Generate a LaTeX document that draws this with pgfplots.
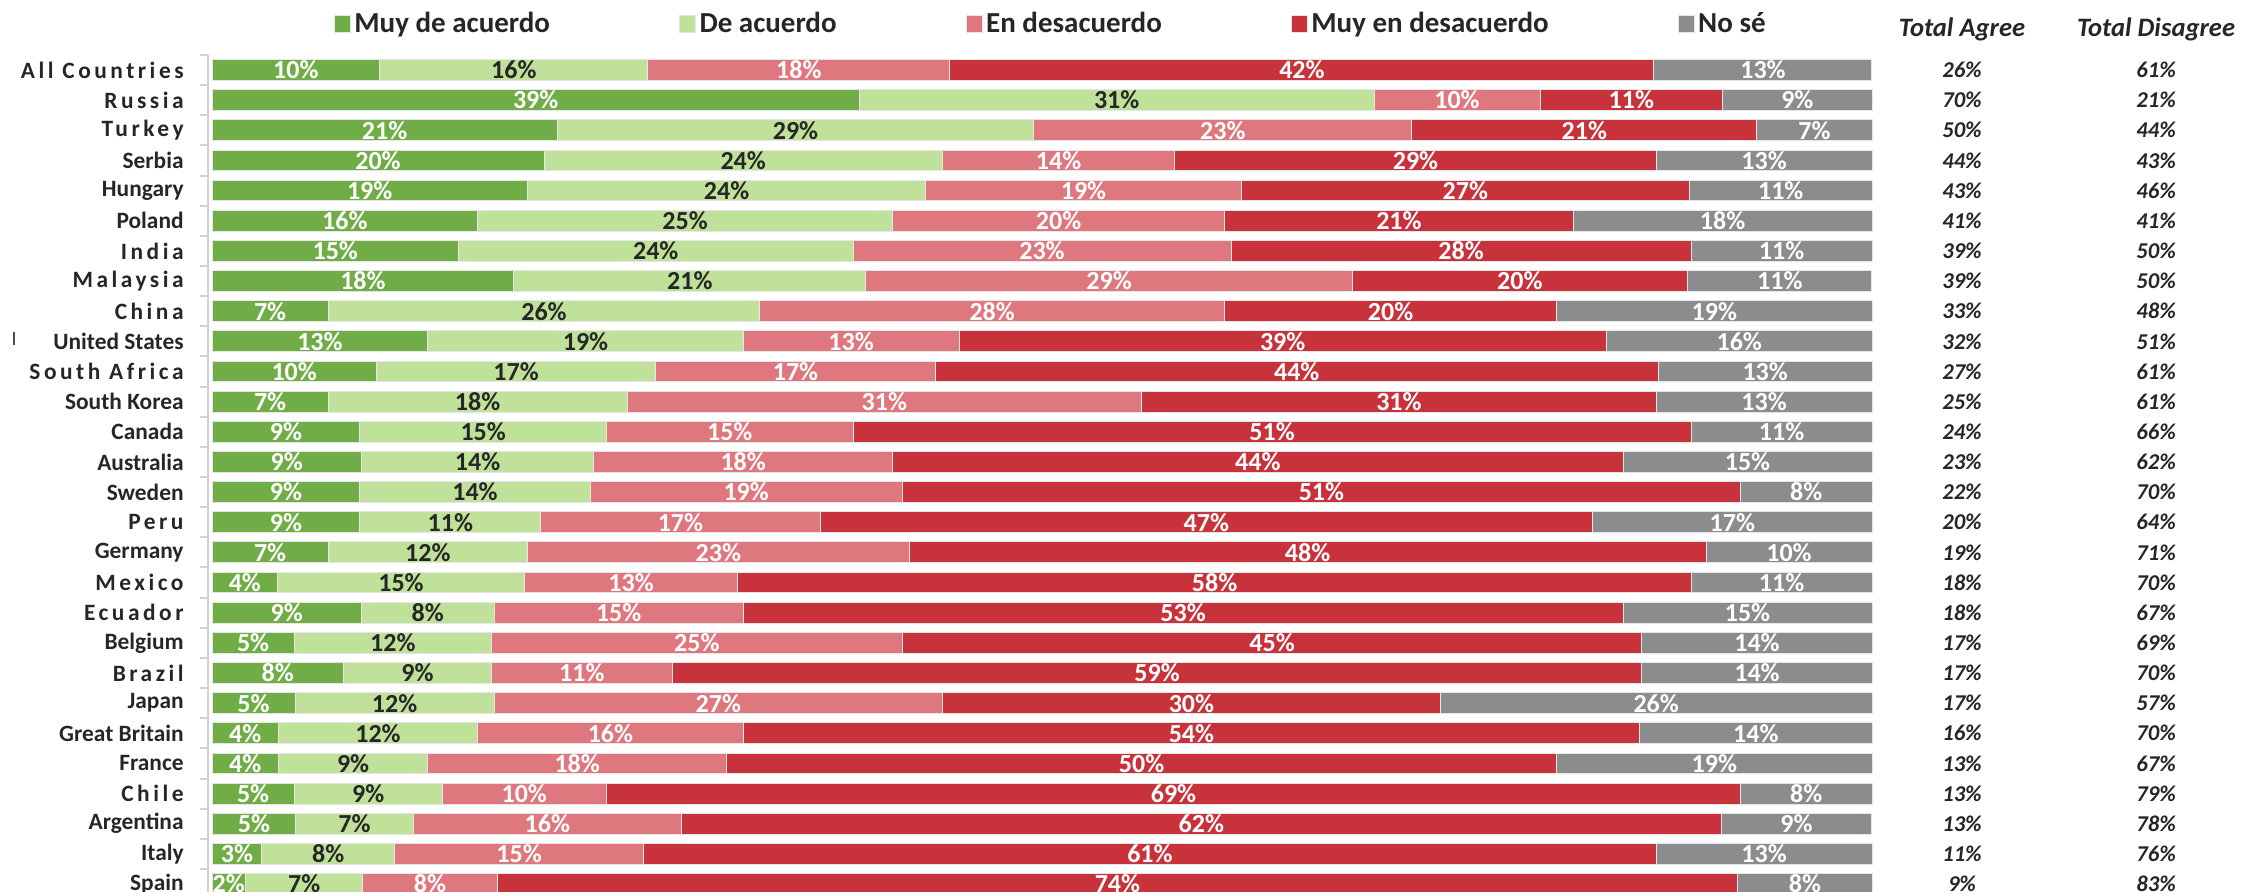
\documentclass[border=0pt]{standalone}
\usepackage{fontspec}
\setmainfont{Carlito}
\usepackage{pgfplots}
\usepackage{pgfplotstable}
\pgfplotsset{compat=1.18}
\definecolor{cA}{HTML}{70AD47}
\definecolor{cB}{HTML}{C0E199}
\definecolor{cC}{HTML}{DE777E}
\definecolor{cD}{HTML}{C8323A}
\definecolor{cE}{HTML}{8A8C8E}
\definecolor{txt}{HTML}{262626}
\definecolor{bl}{HTML}{E6E6E6}
\newcommand\ls{\addfontfeatures{LetterSpace=15}}
% total of the five printed shares, used to draw each bar as 100%
\newcommand\Tot{(\thisrow{a}+\thisrow{b}+\thisrow{c}+\thisrow{d}+\thisrow{e})}
\newcommand\Nm[1]{(100*(#1)/\Tot)}

\pgfplotstableread{
idx a b c d e ta td
0 10 16 18 42 13 26 61
1 39 31 10 11 9 70 21
2 21 29 23 21 7 50 44
3 20 24 14 29 13 44 43
4 19 24 19 27 11 43 46
5 16 25 20 21 18 41 41
6 15 24 23 28 11 39 50
7 18 21 29 20 11 39 50
8 7 26 28 20 19 33 48
9 13 19 13 39 16 32 51
10 10 17 17 44 13 27 61
11 7 18 31 31 13 25 61
12 9 15 15 51 11 24 66
13 9 14 18 44 15 23 62
14 9 14 19 51 8 22 70
15 9 11 17 47 17 20 64
16 7 12 23 48 10 19 71
17 4 15 13 58 11 18 70
18 9 8 15 53 15 18 67
19 5 12 25 45 14 17 69
20 8 9 11 59 14 17 70
21 5 12 27 30 26 17 57
22 4 12 16 54 14 16 70
23 4 9 18 50 19 13 67
24 5 9 10 69 8 13 79
25 5 7 16 62 9 13 78
26 3 8 15 61 13 11 76
27 2 7 8 74 8 9 83
}\data

\pgfplotsset{
  base/.style={at={(0,0)}, anchor=south west, scale only axis,
    width=1129.5pt, height=446pt,
    xmin=-12.7711, xmax=123.3133, ymin=-2.3217, ymax=27.2637,
    y dir=reverse, axis line style={draw=none}, xtick=\empty,
    enlargelimits=false},
  sq/.style={legend image code/.code={\fill[##1] (0pt,-4.25pt) rectangle (8pt,4.25pt);}},
  lab/.style={draw=none, point meta=explicit symbolic,
    nodes near coords={\pgfplotspointmeta\%},
    every node near coord/.append style={anchor=center, inner sep=0pt,
      font=\bfseries\fontsize{13}{15}\selectfont, text=#1}},
  tot/.style={draw=none, point meta=explicit symbolic,
    nodes near coords={\pgfplotspointmeta\%},
    every node near coord/.append style={anchor=center, inner sep=0pt,
      font=\bfseries\itshape\fontsize{11.3}{13}\selectfont, text=txt}},
}

\begin{document}
\begin{tikzpicture}
\useasboundingbox (0,0) rectangle (1129.5pt,446pt);
\begin{axis}[base, xbar stacked, bar width=0.69, ytick=\empty,
  legend columns=5,
  legend style={at={(0.1478,0.973)}, anchor=west, draw=none, fill=none,
    inner sep=0pt, outer sep=0pt,
    nodes={inner xsep=1.75pt, inner ysep=0pt, text=txt},
    font=\bfseries\fontsize{14.5}{17}\selectfont,
    /tikz/every even column/.append style={column sep=62.75pt}},
  legend cell align=left]
\addplot[fill=cA, draw=bl, line width=0.5pt, sq] table[x expr=\Nm{\thisrow{a}}, y=idx]{\data};
\addlegendentry{Muy de acuerdo}
\addplot[fill=cB, draw=bl, line width=0.5pt, sq] table[x expr=\Nm{\thisrow{b}}, y=idx]{\data};
\addlegendentry{De acuerdo}
\addplot[fill=cC, draw=bl, line width=0.5pt, sq] table[x expr=\Nm{\thisrow{c}}, y=idx]{\data};
\addlegendentry{En desacuerdo}
\addplot[fill=cD, draw=bl, line width=0.5pt, sq] table[x expr=\Nm{\thisrow{d}}, y=idx]{\data};
\addlegendentry{Muy en desacuerdo}
\addplot[fill=cE, draw=bl, line width=0.5pt, sq] table[x expr=\Nm{\thisrow{e}}, y=idx]{\data};
\addlegendentry{No sé}
\end{axis}
\begin{axis}[base, clip=false, ytick={0,...,27}, major tick length=0pt,
  ytick style={draw=none},
  yticklabel style={anchor=east, inner xsep=0pt, xshift=92pt, text=txt,
    font=\bfseries\fontsize{11.7}{13}\selectfont},
  yticklabels={{\ls All Countries},{\ls Russia},{\ls Turkey},Serbia,Hungary,Poland,{\ls India},{\ls Malaysia},{\ls China},United States,{\ls South Africa},South Korea,Canada,Australia,Sweden,{\ls Peru},Germany,{\ls Mexico},{\ls Ecuador},Belgium,{\ls Brazil},Japan,Great Britain,France,{\ls Chile},Argentina,Italy,Spain}]
\draw[white!82!black, line width=1pt] (axis cs:-0.24,-0.5) -- (axis cs:-0.24,27.3);
\pgfplotsinvokeforeach{-0.5,0.5,...,26.5}{
  \draw[white!82!black, line width=1pt] (axis cs:-0.72,#1) -- (axis cs:-0.24,#1);}
\draw[black!70, line width=0.8pt] (axis cs:-11.93,8.69) -- (axis cs:-11.93,9.12);
\addplot[lab=white] table[x expr=\Nm{\thisrow{a}/2}, y=idx, meta=a]{\data};
\addplot[lab=txt] table[x expr=\Nm{\thisrow{a}+\thisrow{b}/2}, y=idx, meta=b]{\data};
\addplot[lab=white] table[x expr=\Nm{\thisrow{a}+\thisrow{b}+\thisrow{c}/2}, y=idx, meta=c]{\data};
\addplot[lab=white] table[x expr=\Nm{\thisrow{a}+\thisrow{b}+\thisrow{c}+\thisrow{d}/2}, y=idx, meta=d]{\data};
\addplot[lab=white] table[x expr=\Nm{\thisrow{a}+\thisrow{b}+\thisrow{c}+\thisrow{d}+\thisrow{e}/2}, y=idx, meta=e]{\data};
\addplot[tot] table[x expr=105.42, y=idx, meta=ta]{\data};
\addplot[tot] table[x expr=117.11, y=idx, meta=td]{\data};
\node[font=\bfseries\itshape\fontsize{13.3}{15}\selectfont, text=txt] at (axis cs:105.42,-1.36) {Total Agree};
\node[font=\bfseries\itshape\fontsize{13.3}{15}\selectfont, text=txt] at (axis cs:117.11,-1.36) {Total Disagree};
\end{axis}
\end{tikzpicture}
\end{document}
